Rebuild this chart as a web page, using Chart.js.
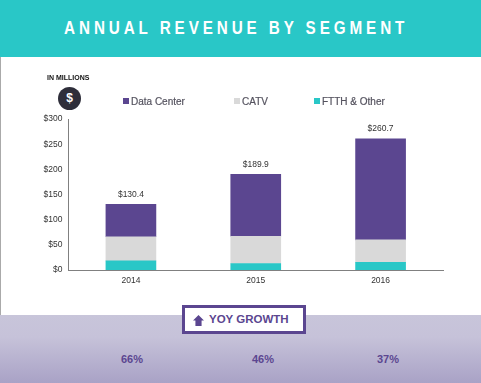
<!DOCTYPE html>
<html>
<head>
<meta charset="utf-8">
<script src="https://cdn.jsdelivr.net/npm/chart.js@4"></script>
<style>
html,body{margin:0;padding:0;background:#fff;overflow:hidden}
body{position:relative;width:481px;height:383px;font-family:"Liberation Sans",Arial,sans-serif}
#head{position:absolute;left:0;top:0;width:481px;height:57px;background:#29c7c7;color:#fff;
    font-size:18px;font-weight:bold;letter-spacing:4.6px;text-align:center;line-height:56px;white-space:nowrap}
#head span{display:inline-block;transform:scaleX(.847);margin-left:-8px}
#side{position:absolute;left:0;top:57px;width:1px;height:258px;background:#aaa}
#band{position:absolute;left:0;top:315px;width:481px;height:68px;
    background:linear-gradient(#c8c5da 0,#c6c2d9 22px,#a9a2c6 68px)}
#chartBox{position:absolute;left:0;top:57px}
#unit{position:absolute;left:47px;top:74px;font-size:7px;font-weight:bold;color:#111;white-space:nowrap}
#coin{position:absolute;left:58px;top:87px;width:23px;height:23px;border-radius:50%;background:#2e2e3a;
    color:#fff;font-size:12px;font-weight:bold;text-align:center;line-height:23px}
.key{position:absolute;top:96px;font-size:10px;line-height:12px;color:#55535f;white-space:nowrap;-webkit-text-stroke:0.2px #55535f}
.key i{display:inline-block;width:6px;height:6px;margin-right:2px;vertical-align:1px}
#yoy{position:absolute;left:182px;top:305px;width:118px;height:23px;border:3px solid #5b4690;background:#fff;
    color:#5b4690;font-size:11.5px;font-weight:bold;line-height:23px;white-space:nowrap}
#yoy span{position:absolute;left:8px;top:7px;width:11px;height:11px;background:#5b4690;
    clip-path:polygon(50% 0,100% 50%,78% 50%,78% 100%,22% 100%,22% 50%,0 50%)}
#yoy b{position:absolute;left:24px}
.pct{position:absolute;top:353px;width:40px;margin-left:-20px;text-align:center;font-size:11px;font-weight:bold;color:#5b4690}
</style>
</head>
<body>
<div id="head"><span>ANNUAL REVENUE BY SEGMENT</span></div>
<div id="side"></div>
<div id="band"></div>
<div id="chartBox"><canvas id="revenueChart" width="481" height="258"></canvas></div>
<div id="unit">IN MILLIONS</div>
<div id="coin">$</div>
<div id="yoy"><span></span><b>YOY GROWTH</b></div>

<script>
const years = ["2014","2015","2016"];
const ftth = [18,13,15];
const catv = [48,54,45];
const dataCenter = [64.4,122.9,200.7];
const totals = ["$130.4","$189.9","$260.7"];
const growth = ["66%","46%","37%"];
const growthLeft = [132,263,388];

const legendNames = ["Data Center","CATV","FTTH & Other"];
const legendColors = ["#5b4690","#d9d9d9","#29c7c7"];
const legendLeft = [123,234,314];

legendNames.forEach((name,i)=>{
    const el = document.createElement("div");
    el.className = "key";
    el.style.left = legendLeft[i]+"px";
    el.innerHTML = '<i style="background:'+legendColors[i]+'"></i>';
    el.appendChild(document.createTextNode(name));
    document.body.appendChild(el);
});

growth.forEach((g,i)=>{
    const el = document.createElement("div");
    el.className = "pct";
    el.style.left = growthLeft[i]+"px";
    el.textContent = g;
    document.body.appendChild(el);
});

// totals sit above the top segment of each stack
const totalLabels = {
    id:"totalLabels",
    afterDatasetsDraw(chart){
        const ctx = chart.ctx;
        const top = chart.getDatasetMeta(2).data;
        ctx.save();
        ctx.font = '8.5px "Liberation Sans"';
        ctx.fillStyle = "#333";
        ctx.textAlign = "center";
        ctx.textBaseline = "middle";
        top.forEach((bar,i)=>ctx.fillText(totals[i],bar.x,bar.y-10));
        ctx.restore();
    }
};

new Chart(document.getElementById("revenueChart"),{
    type:"bar",
    data:{
        labels:years,
        datasets:[
            {label:legendNames[2],data:ftth,backgroundColor:legendColors[2]},
            {label:legendNames[1],data:catv,backgroundColor:legendColors[1]},
            {label:legendNames[0],data:dataCenter,backgroundColor:legendColors[0]}
        ]
    },
    options:{
        responsive:false,
        animation:false,
        layout:{padding:{top:62,right:38,left:0,bottom:0}},
        datasets:{bar:{barThickness:50}},
        plugins:{legend:{display:false},title:{display:false},tooltip:{enabled:false}},
        scales:{
            x:{
                stacked:true,
                grid:{display:false,drawTicks:false},
                border:{color:"#808080"},
                ticks:{color:"#333",font:{size:8.5,family:"Liberation Sans"},padding:6,maxRotation:0},
                afterFit(s){s.height=45;}
            },
            y:{
                stacked:true,
                min:0,max:300,
                grid:{display:false,drawTicks:false},
                border:{color:"#808080"},
                ticks:{
                    stepSize:50,
                    color:"#333",
                    font:{size:8.5,family:"Liberation Sans"},
                    padding:6,
                    callback:v=>"$"+v
                },
                afterFit(s){s.width=68.5;}
            }
        }
    },
    plugins:[totalLabels]
});
</script>
</body>
</html>
